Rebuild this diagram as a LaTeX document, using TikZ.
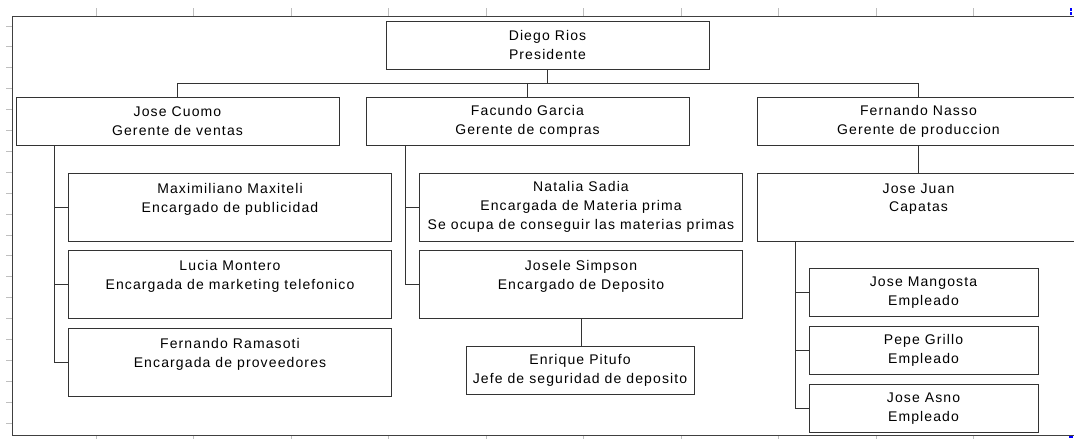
\documentclass[tikz,border=0pt]{standalone}
\usepackage{fontspec}
\newfontfamily\organfont[LetterSpace=8]{Liberation Sans}
\usetikzlibrary{positioning}
\tikzset{
    cargo/.style={draw=black!80, line width=0.75pt, fill=white, inner sep=0pt,
        minimum width=242.25pt, minimum height=36pt, align=center,
        font=\organfont\fontsize{10.5pt}{14pt}\selectfont},
    cargoalto/.style={cargo, minimum height=51pt},
    empleado/.style={cargo, minimum width=171.75pt}
}
\tikzset{
    enlace/.style={black!80, line width=0.75pt},
    regla/.style={black!25, line width=0.75pt}
}

\begin{document}
\begin{tikzpicture}[x=0.75pt,y=-0.75pt]
    \useasboundingbox (0,0) rectangle (1074,439);
    % regla
    \foreach \i in {0,...,9} \draw[regla] ({96+97.5*\i},8) -- ++(0,8);
    \foreach \i in {0,...,9} \draw[regla] ({96+97.5*\i},435) -- ++(0,4);
    \foreach \i in {0,...,19} \draw[regla] (6,{26+20.9*\i}) -- ++(6,0);
    \draw[blue, line width=1.5pt, dash pattern=on 2pt off 1pt] (1071,8) -- (1071,16);
    \fill[blue] (1069,435) rectangle (1073,438);
    \draw[black!75, line width=0.75pt] (1074,16) -- (12,16) -- (12,435) -- (1074,435);

    \node[cargo] (rios) at (547.5,45) {Diego Rios\\Presidente};
    \node[cargo] (cuomo) at (177.5,121) {Jose Cuomo\\Gerente de ventas};
    \node[cargo] (garcia) at (527.5,121.5) {Facundo Garcia\\Gerente de compras};
    \node[cargo] (nasso) at (918.5,121.5) {Fernando Nasso\\Gerente de produccion};

    \node[cargoalto] (maxiteli) at (230,207) {Maximiliano Maxiteli\\Encargado de publicidad\\\mbox{}};
    \node[cargoalto] (montero) at (230,284.5) {Lucia Montero\\Encargada de marketing telefonico\\\mbox{}};
    \node[cargoalto] (ramasoti) at (230,362) {Fernando Ramasoti\\Encargada de proveedores\\\mbox{}};

    \node[cargoalto] (sadia) at (581,207) {Natalia Sadia\\Encargada de Materia prima\\Se ocupa de conseguir las materias primas};
    \node[cargoalto] (simpson) at (581,284.5) {Josele Simpson\\Encargado de Deposito\\\mbox{}};
    \node[empleado, minimum width=171pt] (pitufo) at (580,370.5) {Enrique Pitufo\\Jefe de seguridad de deposito};

    \node[cargoalto] (juan) at (918.5,207) {Jose Juan\\Capatas\\\mbox{}};
    \node[empleado] (mangosta) at (923.5,292.5) {Jose Mangosta\\Empleado};
    \node[empleado] (grillo) at (923.5,350.5) {Pepe Grillo\\Empleado};
    \node[empleado] (asno) at (923.5,408.5) {Jose Asno\\Empleado};

    % lineas
    \draw[enlace] (rios.south) -- ++(0,14) coordinate (bus) -| (cuomo.north);
    \draw[enlace] (bus) -| (garcia.north);
    \draw[enlace] (bus) -| (nasso.north);
    \draw[enlace] ([xshift=29.25pt]cuomo.south west) |- (maxiteli.west);
    \draw[enlace] ([xshift=29.25pt]cuomo.south west) |- (montero.west);
    \draw[enlace] ([xshift=29.25pt]cuomo.south west) |- (ramasoti.west);
    \draw[enlace] ([xshift=30pt]garcia.south west) |- (sadia.west);
    \draw[enlace] ([xshift=30pt]garcia.south west) |- (simpson.west);
    \draw[enlace] (simpson.south) -- (simpson.south |- pitufo.north);
    \draw[enlace] (nasso.south) -- (juan.north);
    \draw[enlace] ([xshift=29.25pt]juan.south west) |- (mangosta.west);
    \draw[enlace] ([xshift=29.25pt]juan.south west) |- (grillo.west);
    \draw[enlace] ([xshift=29.25pt]juan.south west) |- (asno.west);
\end{tikzpicture}
\end{document}
